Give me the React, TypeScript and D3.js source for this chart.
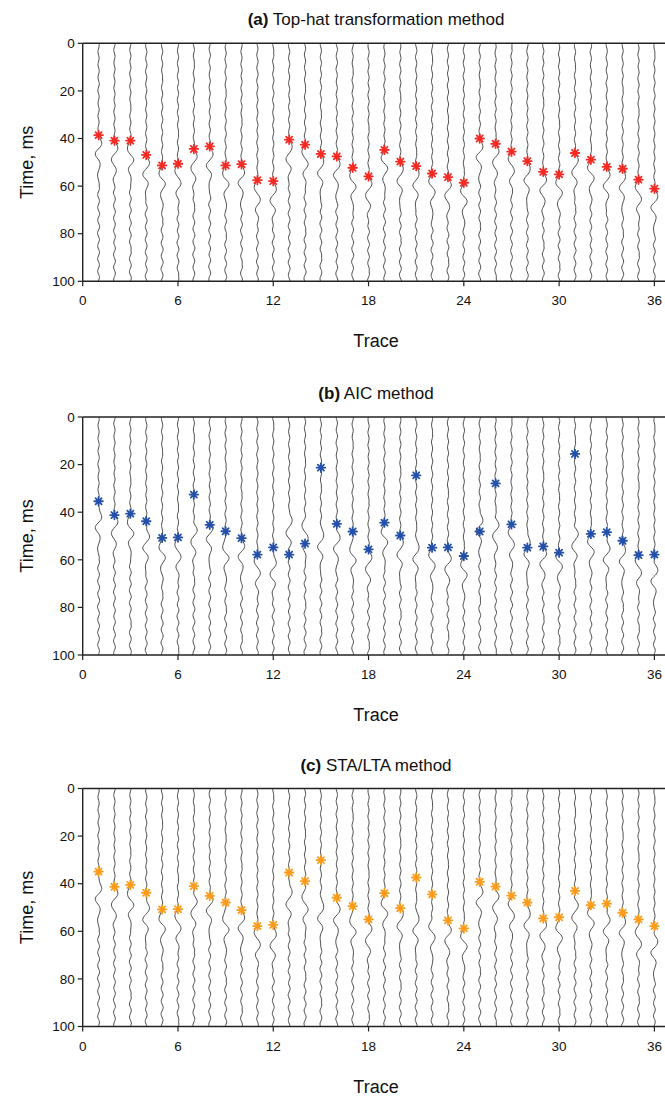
import React from "react";
import * as d3 from "d3";

// Picked first-arrival times (ms) for traces 1..36
const traces = d3.range(1, 37);
const picksTopHat = [38.6, 40.9, 40.9, 46.9, 51.3, 50.6, 44.4, 43.3, 51.3, 50.8, 57.5, 57.9, 40.5, 42.6, 46.5, 47.5, 52.3, 55.9, 44.8, 49.7, 51.6, 54.7, 56.2, 58.6, 40.0, 42.2, 45.5, 49.5, 54.0, 55.1, 46.1, 48.9, 51.9, 52.7, 57.3, 61.1];
const picksAIC = [35.4, 41.2, 40.6, 43.8, 50.8, 50.6, 32.6, 45.3, 48.0, 50.9, 57.8, 54.8, 57.8, 53.2, 21.3, 44.9, 48.1, 55.6, 44.4, 49.8, 24.5, 54.9, 54.8, 58.4, 48.1, 27.9, 45.1, 54.9, 54.4, 57.0, 15.5, 49.1, 48.4, 52.0, 58.0, 57.8];
const picksSTALTA = [34.9, 41.3, 40.5, 43.8, 50.8, 50.7, 41.0, 45.1, 47.9, 51.1, 57.8, 57.3, 35.3, 38.9, 30.1, 45.9, 49.4, 55.0, 44.0, 50.3, 37.4, 44.5, 55.4, 58.8, 39.2, 41.2, 45.0, 47.9, 54.6, 54.1, 43.0, 49.0, 48.4, 52.2, 55.0, 57.8];

// Waveform pieces (horizontal deflection in px), sampled every 1 ms
const noiseSamples = [0.3, 0.8, 0.2, -0.6, -0.7, 0.1, 0.7, 0.5, -0.3, -0.8, -0.2, 0.6, 0.8, 0.0, -0.7, -0.5, 0.3, 0.9, 0.4, -0.5, -0.9, -0.1, 0.6, 0.6, -0.2, -0.7, -0.4, 0.4, 0.8, 0.1, -0.6, -0.7, 0.2, 0.7, 0.3, -0.4, -0.8, 0.0, 0.7, 0.5, -0.3, -0.6, 0.1, 0.8, 0.4, -0.5, -0.8, -0.1, 0.6, 0.7, -0.2, -0.8, -0.3, 0.5, 0.7, 0.0, -0.6, -0.5, 0.3, 0.6];
const waveletSamples = [0, 1.2, 2.6, 3.4, 3.1, 1.6, -0.7, -2.8, -3.6, -2.8, -0.9, 1.1, 2.1, 1.8, 0.7, -0.5, -1.2, -1.0, -0.4, 0.1];
const polarity = [1, 1, -1, 1, -1, -1, 1, 1, -1, 1, -1, 1, 1, -1, 1, 1, -1, 1, -1, 1, 1, -1, 1, -1, 1, 1, -1, 1, 1, -1, 1, -1, 1, 1, -1, 1];
const noiseOffset = [0, 17, 33, 8, 45, 22, 51, 12, 39, 27, 4, 56, 19, 41, 30, 9, 48, 24, 2, 37, 14, 53, 28, 6, 43, 21, 58, 11, 35, 26, 50, 16, 3, 40, 31, 55];

const xTicks = [0, 6, 12, 18, 24, 30, 36];
const yTicks = [0, 20, 40, 60, 80, 100];

const panelTitles = [
  { tag: "(a)", text: " Top-hat transformation method" },
  { tag: "(b)", text: " AIC method" },
  { tag: "(c)", text: " STA/LTA method" },
];
const panelPicks = [picksTopHat, picksAIC, picksSTALTA];
const panelColors = ["#f42a24", "#2450a8", "#fb9c1c"];
const panelTops = [43.3, 417.0, 788.5];

const W = 665;
const H = 1099;
const PLOT_H = 238;
const FONT = "'Liberation Sans', Arial, sans-serif";

const x = d3.scaleLinear().domain([0, 36]).range([82.7, 654.4]);

function traceSamples(i: number) {
  const onset = picksTopHat[i];
  const pts: [number, number][] = [];
  for (let t = 0; t <= 100; t += 1) {
    const n = noiseSamples[(t + noiseOffset[i]) % noiseSamples.length];
    let dx = n * 1.0;
    const j = t - onset;
    if (j >= 0 && j < waveletSamples.length) {
      const k = Math.floor(j);
      const f = j - k;
      const a = waveletSamples[k];
      const b = waveletSamples[Math.min(k + 1, waveletSamples.length - 1)];
      dx = (a + (b - a) * f) * polarity[i] + n * 0.4;
    } else if (j >= waveletSamples.length) {
      dx = n * 1.5;
    }
    pts.push([dx, t]);
  }
  return pts;
}

function starPath(r: number) {
  const parts: string[] = [];
  for (let k = 0; k < 4; k++) {
    const a = (k * Math.PI) / 4;
    const dx = Math.cos(a) * r;
    const dy = Math.sin(a) * r;
    parts.push(`M${-dx},${-dy}L${dx},${dy}`);
  }
  return parts.join("");
}

function Panel({ idx }: { idx: number }) {
  const top = panelTops[idx];
  const y = d3.scaleLinear().domain([0, 100]).range([top, top + PLOT_H]);
  const x0 = x(0);
  const bottom = y(100);
  const picks = panelPicks[idx];
  const color = panelColors[idx];
  const line = d3
    .line<[number, number]>()
    .x((d) => d[0])
    .y((d) => y(d[1]))
    .curve(d3.curveBasis);
  const star = starPath(4.3);
  return (
    <g>
      <text x={376} y={top - 18} textAnchor="middle" fontFamily={FONT} fontSize={17} fill="#111">
        <tspan fontWeight="bold">{panelTitles[idx].tag}</tspan>
        <tspan>{panelTitles[idx].text}</tspan>
      </text>
      {traces.map((tr, i) => {
        const cx = x(tr);
        const pts = traceSamples(i).map(([dx, t]) => [cx + dx, t] as [number, number]);
        return <path key={tr} d={line(pts) || ""} fill="none" stroke="#3a3a3a" strokeWidth={0.9} />;
      })}
      {/* frame */}
      <line x1={x0} x2={W} y1={top} y2={top} stroke="#222" strokeWidth={1.6} />
      <line x1={x0} x2={W} y1={bottom} y2={bottom} stroke="#222" strokeWidth={1.6} />
      <line x1={x0} x2={x0} y1={top} y2={bottom} stroke="#222" strokeWidth={1.4} />
      {yTicks.map((v) => (
        <g key={v}>
          <line x1={x0 - 5} x2={x0} y1={y(v)} y2={y(v)} stroke="#222" strokeWidth={1.2} />
          <text x={x0 - 8} y={y(v)} dy="0.35em" textAnchor="end" fontFamily={FONT} fontSize={13.5} fill="#111">
            {v}
          </text>
        </g>
      ))}
      {xTicks.map((v) => (
        <g key={v}>
          <line x1={x(v)} x2={x(v)} y1={bottom} y2={bottom + 5} stroke="#222" strokeWidth={1.2} />
          <text x={x(v)} y={bottom + 24} textAnchor="middle" fontFamily={FONT} fontSize={13.5} fill="#111">
            {v}
          </text>
        </g>
      ))}
      <text x={376} y={bottom + 66} textAnchor="middle" fontFamily={FONT} fontSize={18} fill="#111">
        Trace
      </text>
      <text
        transform={`translate(33,${(top + bottom) / 2}) rotate(-90)`}
        textAnchor="middle"
        fontFamily={FONT}
        fontSize={18}
        fill="#111"
      >
        Time, ms
      </text>
      {traces.map((tr, i) => (
        <g key={tr} transform={`translate(${x(tr)},${y(picks[i])})`}>
          <path d={star} stroke={color} strokeWidth={1.8} strokeLinecap="round" fill="none" />
          <circle r={1.8} fill={color} />
        </g>
      ))}
    </g>
  );
}

export default function App() {
  return (
    <svg
      width={W}
      height={H}
      viewBox={`0 0 ${W} ${H}`}
      style={{ position: "absolute", left: 0, top: 0, background: "#fff" }}
    >
      <rect width={W} height={H} fill="#fff" />
      {[0, 1, 2].map((i) => (
        <Panel key={i} idx={i} />
      ))}
    </svg>
  );
}
